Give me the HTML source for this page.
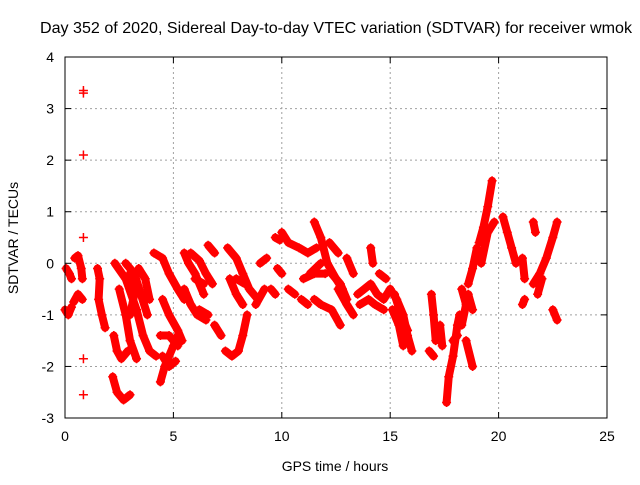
<!DOCTYPE html>
<html><head><meta charset="utf-8"><style>
body{margin:0;background:#fff;}
svg text{font-family:"Liberation Sans",sans-serif;font-size:14px;fill:#000;}
</style></head><body>
<svg id="chart" width="640" height="480" xmlns="http://www.w3.org/2000/svg">
<text x="336" y="33" text-anchor="middle" style="font-size:16px" textLength="592" lengthAdjust="spacingAndGlyphs">Day 352 of 2020, Sidereal Day-to-day VTEC variation (SDTVAR) for receiver wmok</text>
<text x="335" y="471" text-anchor="middle">GPS time / hours</text>
<text transform="translate(18,238) rotate(-90)" text-anchor="middle">SDTVAR / TECUs</text>
<g id="grid"></g>
<g id="ticks"></g>
<g id="marks"></g>
<rect x="65" y="57" width="542" height="361" fill="none" stroke="#000" stroke-width="1"/>
</svg>
<script>
const xTicks=[0,5,10,15,20,25];
const yTicks=[-3,-2,-1,0,1,2,3,4];
const tracks=[
[[0.05,-0.1],[0.2,-0.2],[0.3,-0.3]],
[[0,-0.9],[0.15,-1.0],[0.3,-0.85]],
[[0.45,0.1],[0.6,0.15],[0.75,-0.1],[0.8,-0.3]],
[[0.4,-0.75],[0.6,-0.6],[0.8,-0.7]],
[[1.5,-0.1],[1.6,-0.3],[1.55,-0.7],[1.7,-1.0],[1.85,-1.25]],
[[2.2,-2.2],[2.4,-2.5],[2.7,-2.65],[3.0,-2.55]],
[[2.25,-1.4],[2.4,-1.7],[2.6,-1.85],[2.9,-1.7]],
[[2.3,0],[2.8,-0.3],[3.3,-0.9],[3.6,-1.4],[3.9,-1.7],[4.2,-1.8]],
[[2.5,-0.5],[2.8,-1.0],[3.0,-1.5],[3.3,-1.85]],
[[2.8,0],[3.2,-0.2],[3.5,-0.6],[3.8,-1.0]],
[[3.0,-0.2],[3.2,-0.6],[3.0,-1.0]],
[[3.4,-0.1],[3.7,-0.3],[3.9,-0.7]],
[[4.1,0.2],[4.5,0.1],[4.8,-0.2],[5.2,-0.5],[5.5,-0.7]],
[[4.5,-0.7],[4.8,-1.0],[5.2,-1.3],[5.4,-1.5]],
[[4.4,-2.3],[4.6,-2.0],[4.8,-1.8],[5.0,-1.6],[5.2,-1.4]],
[[4.4,-1.4],[4.8,-1.4],[5.2,-1.6]],
[[4.5,-1.8],[4.8,-2.0],[5.1,-1.9]],
[[5.5,0.2],[5.7,0],[6.0,-0.2],[6.4,-0.6]],
[[5.5,-0.5],[5.8,-0.8],[6.1,-1.0],[6.5,-1.1]],
[[5.8,0.2],[6.2,0.05],[6.5,-0.2],[6.8,-0.4]],
[[6.6,0.35],[6.9,0.2]],
[[6.0,-0.3],[6.4,-0.4]],
[[6.2,-0.9],[6.6,-1.0]],
[[7.5,0.3],[7.9,0.1],[8.2,-0.2],[8.5,-0.5],[8.9,-0.7]],
[[7.6,-0.3],[7.9,-0.6],[8.2,-0.8]],
[[7.4,-1.7],[7.7,-1.8],[8.0,-1.7],[8.2,-1.4],[8.4,-1.0]],
[[6.9,-1.2],[7.2,-1.4]],
[[7.9,-0.3],[8.3,-0.4]],
[[8.8,-0.8],[9.2,-0.5]],
[[9.0,0],[9.3,0.1]],
[[9.7,0.5],[9.9,0.45]],
[[10.0,0.6],[10.3,0.4],[10.8,0.3],[11.2,0.2],[11.6,0.3]],
[[9.8,-0.1],[10.0,-0.2]],
[[9.5,-0.5],[9.7,-0.6]],
[[10.3,-0.5],[10.6,-0.6]],
[[11,-0.3],[11.5,-0.2],[12,-0.2]],
[[11.5,0.8],[11.8,0.5],[12.1,0],[12.5,-0.3],[12.8,-0.5]],
[[11.5,-0.7],[11.8,-0.8],[12.3,-0.9],[12.7,-1.2]],
[[10.9,-0.7],[11.2,-0.8]],
[[11.3,-0.2],[11.8,0]],
[[12.2,0.4],[12.6,0.2]],
[[12.3,-0.2],[12.7,-0.4],[13.0,-0.7]],
[[12.6,-0.5],[13,-0.8],[13.3,-1.0]],
[[13.0,0.1],[13.3,-0.2]],
[[13.5,-0.6],[13.8,-0.5],[14.1,-0.4],[14.4,-0.6],[14.7,-0.7],[15.0,-0.5]],
[[13.6,-0.8],[14,-0.7],[14.3,-0.8],[14.7,-0.9]],
[[14.1,0.3],[14.2,0]],
[[14.5,-0.2],[14.8,-0.3]],
[[15.0,-0.5],[15.3,-0.7],[15.6,-1.0],[15.8,-1.4],[16.0,-1.7]],
[[15.2,-0.6],[15.5,-1.0],[15.8,-1.3]],
[[15.1,-0.9],[15.4,-1.2],[15.6,-1.6]],
[[16.9,-0.6],[17.0,-1.0],[17.1,-1.5]],
[[17.3,-1.2],[17.4,-1.6]],
[[16.8,-1.7],[17.0,-1.8]],
[[17.6,-2.7],[17.7,-2.2],[17.9,-1.8],[18.1,-1.2],[18.2,-1.0]],
[[17.9,-1.5],[18.1,-1.4]],
[[18.3,-0.5],[18.5,-0.8],[18.3,-1.2]],
[[18.5,-1.5],[18.8,-2.0]],
[[18.6,-0.6],[18.8,-0.9]],
[[18.6,-0.4],[18.8,-0.1],[19.0,0.3],[19.1,0.1]],
[[19.1,0.4],[19.3,0.7],[19.5,1.1],[19.7,1.6]],
[[19.2,0],[19.5,0.6],[19.8,0.8]],
[[20.2,0.9],[20.4,0.6],[20.6,0.3],[20.8,0]],
[[21.1,0.1],[21.2,-0.3]],
[[21.1,-0.8],[21.2,-0.7]],
[[21.6,0.8],[21.7,0.6]],
[[21.6,-0.4],[21.9,-0.2],[22.2,0.1],[22.5,0.5],[22.7,0.8]],
[[21.8,-0.6],[22.0,-0.3]],
[[22.5,-0.9],[22.7,-1.1]]
];
const outliers=[[0.85,3.35],[0.85,3.3],[0.85,2.1],[0.85,0.5],[0.85,-1.85],[0.85,-2.55]];
const X=h=>65+h*(542/25);
const Y=v=>263.3-v*(361/7);
const NS='http://www.w3.org/2000/svg';
function mk(t,a,p){const e=document.createElementNS(NS,t);for(const k in a)e.setAttribute(k,a[k]);p.appendChild(e);return e;}
const grid=document.getElementById('grid'),ticks=document.getElementById('ticks'),marks=document.getElementById('marks');
xTicks.forEach(t=>{const x=X(t);
 if(t>0&&t<25){const g=mk('line',{x1:x,x2:x,y1:57,y2:418,stroke:'#a0a0a0','stroke-dasharray':'2,3'},grid);}
 mk('line',{x1:x,x2:x,y1:418,y2:412,stroke:'#000'},ticks);mk('line',{x1:x,x2:x,y1:57,y2:63,stroke:'#000'},ticks);
 const l=mk('text',{x:x,y:441,'text-anchor':'middle'},ticks);l.textContent=t;});
yTicks.forEach(t=>{const y=Y(t);
 if(t>-3&&t<4){const g=mk('line',{x1:65,x2:607,y1:y,y2:y,stroke:'#a0a0a0','stroke-dasharray':'2,3'},grid);}
 mk('line',{x1:65,x2:71,y1:y,y2:y,stroke:'#000'},ticks);mk('line',{x1:607,x2:601,y1:y,y2:y,stroke:'#000'},ticks);
 const l=mk('text',{x:54,y:y+5,'text-anchor':'end'},ticks);l.textContent=t;});
function plus(h,v){const x=X(h),y=Y(v);const p=mk('path',{d:`M${x-4.5} ${y}H${x+4.5}M${x} ${y-4.5}V${y+4.5}`,stroke:'#f00','stroke-width':1.5,fill:'none'},marks);}
tracks.forEach(tr=>{
 const pl=mk('polyline',{points:tr.map(p=>X(p[0])+','+Y(p[1])).join(' '),stroke:'#f00','stroke-width':8,fill:'none','stroke-linejoin':'round','stroke-linecap':'round'},marks);
 
 
 tr.forEach(p=>plus(p[0],p[1]));
});
outliers.forEach(p=>plus(p[0],p[1]));
</script>
</body></html>
